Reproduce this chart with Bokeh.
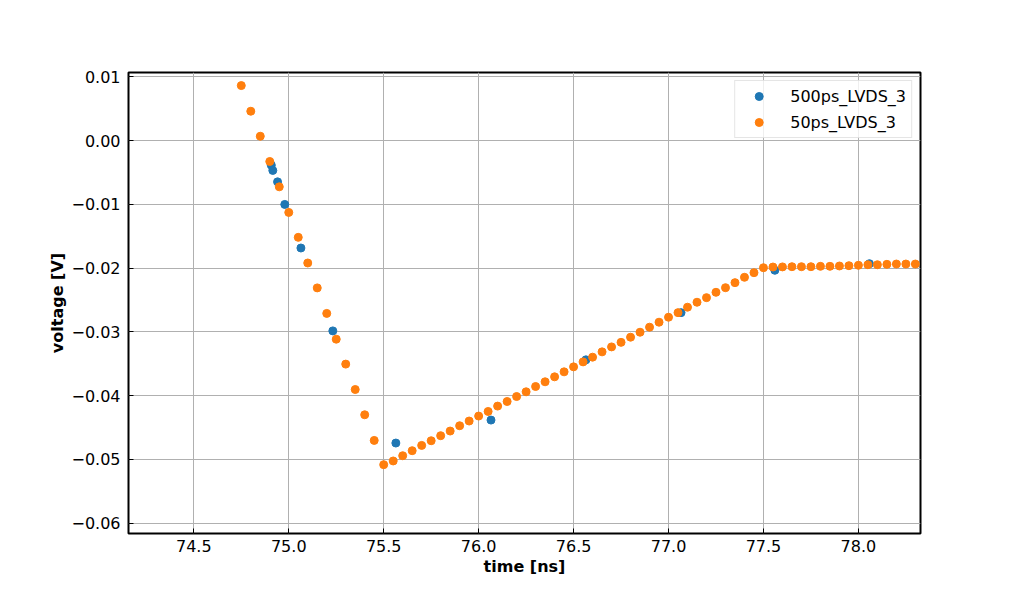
from bokeh.plotting import figure
from bokeh.models import Range1d, FixedTicker, CustomJSTickFormatter, Legend, LegendItem, ColumnDataSource
from bokeh.embed import file_html
from bokeh.resources import INLINE

# ---- data ----
t_50ps = [round(74.75 + 0.05 * i, 2) for i in range(72)]
v_50ps = [
    0.00861, 0.00459, 0.00067, -0.00329, -0.00726, -0.01127, -0.01518, -0.0192,
    -0.0231, -0.0271, -0.03114, -0.03505, -0.03903, -0.04299, -0.04701,
    -0.05081, -0.05023, -0.04941, -0.04862, -0.04779, -0.04706, -0.04627, -0.04554,
    -0.04471, -0.04397, -0.04319, -0.04247, -0.04163, -0.04091, -0.04013, -0.03939,
    -0.03856, -0.03782, -0.03704, -0.03626, -0.03548, -0.03470, -0.03396, -0.03313,
    -0.03235, -0.03164, -0.03083, -0.03005, -0.02926, -0.02848, -0.02770, -0.02698,
    -0.02613, -0.02535, -0.02463, -0.02379, -0.02307, -0.02228, -0.02144, -0.02072,
    -0.01994,
    -0.01983, -0.01981, -0.01978, -0.01978, -0.01978, -0.01972, -0.01972, -0.01967,
    -0.01962, -0.01956, -0.01947, -0.01947, -0.01941, -0.01936, -0.01936, -0.01936,
]
t_500ps = [74.908, 74.916, 74.941, 74.979, 75.064, 75.232, 75.564, 76.065, 76.565, 77.066, 77.560, 78.058]
v_500ps = [-0.00387, -0.00469, -0.00648, -0.01002, -0.01685, -0.02984, -0.04742, -0.04382, -0.03438, -0.02698, -0.02034, -0.01931]

x_ticks = [74.5, 75.0, 75.5, 76.0, 76.5, 77.0, 77.5, 78.0]
y_ticks = [0.01, 0.0, -0.01, -0.02, -0.03, -0.04, -0.05, -0.06]
series_names = ["500ps_LVDS_3", "50ps_LVDS_3"]
series_colors = ["#1f77b4", "#ff7f0e"]

FONT = "DejaVu Sans"
FS = "16px"

p = figure(
    output_backend="svg", toolbar_location=None,
    frame_width=792, frame_height=461,
    min_border_left=128, min_border_top=72, min_border_right=80, min_border_bottom=50,
    x_range=Range1d(74.156, 78.327), y_range=Range1d(-0.0616, 0.01066),
    background_fill_color="white", border_fill_color="white",
)

src_a = ColumnDataSource(dict(x=t_500ps, y=v_500ps))
src_b = ColumnDataSource(dict(x=t_50ps, y=v_50ps))
r_a = p.scatter("x", "y", source=src_a, marker="circle", size=8,
                fill_color=series_colors[0], line_color=series_colors[0])
r_b = p.scatter("x", "y", source=src_b, marker="circle", size=8,
                fill_color=series_colors[1], line_color=series_colors[1])

p.xaxis.ticker = FixedTicker(ticks=x_ticks)
p.yaxis.ticker = FixedTicker(ticks=y_ticks)
p.xaxis.formatter = CustomJSTickFormatter(code="return (tick < -1e-9 ? '\u2212' : '') + Math.abs(tick).toFixed(1);")
p.yaxis.formatter = CustomJSTickFormatter(code="return (tick < -1e-9 ? '\u2212' : '') + Math.abs(tick).toFixed(2);")

for ax in (p.xaxis, p.yaxis):
    ax.major_label_text_font = FONT
    ax.major_label_text_font_size = FS
    ax.major_label_text_color = "black"
    ax.axis_label_text_font = FONT
    ax.axis_label_text_font_size = FS
    ax.axis_label_text_font_style = "bold"
    ax.axis_label_text_color = "black"
    ax.major_tick_in = 5
    ax.major_tick_out = 0
    ax.minor_tick_in = 0
    ax.minor_tick_out = 0
    ax.major_tick_line_color = "black"
    ax.major_tick_line_width = 1
    ax.axis_line_color = None

p.xaxis.axis_label = "time [ns]"
p.yaxis.axis_label = "voltage [V]"
p.xaxis.major_label_standoff = 6
p.yaxis.major_label_standoff = 8
p.xaxis.axis_label_standoff = 2
p.yaxis.axis_label_standoff = 1

p.grid.grid_line_color = "#b0b0b0"
p.grid.grid_line_width = 1

p.outline_line_color = "black"
p.outline_line_width = 2

legend = Legend(
    items=[LegendItem(label=series_names[0], renderers=[r_a]),
           LegendItem(label=series_names[1], renderers=[r_b])],
    location="top_right",
    label_text_font=FONT, label_text_font_size=FS, label_text_color="black",
    border_line_color="#cccccc", border_line_width=1,
    background_fill_alpha=0.8,
    padding=5, margin=8, spacing=6,
    label_height=20, glyph_height=20, glyph_width=37, label_standoff=13,
)
p.add_layout(legend, "center")

open("out.html", "w").write(file_html(p, INLINE))
